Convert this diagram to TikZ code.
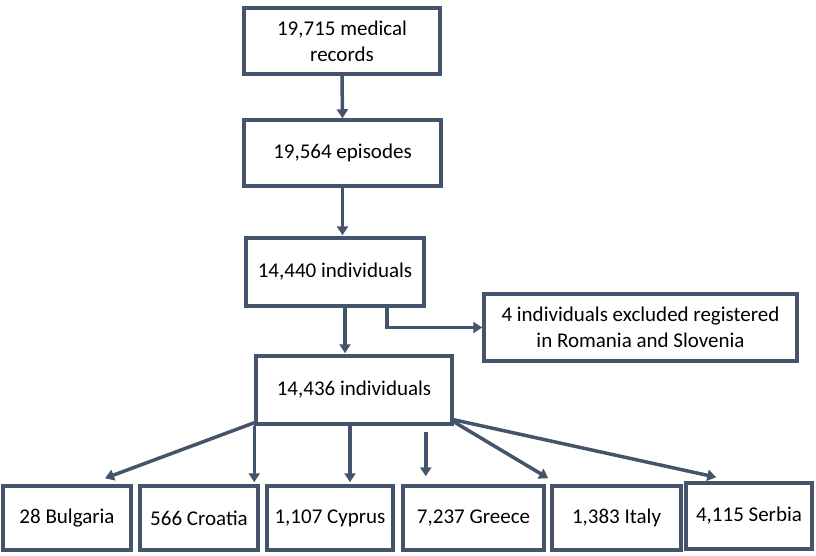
\documentclass[tikz,border=0pt]{standalone}
\usepackage{fontspec}
\setmainfont{Carlito}
\usetikzlibrary{arrows.meta,calc}
\definecolor{slate}{HTML}{44546A}
\begin{document}
\begin{tikzpicture}[x=1pt,y={(0,-1pt)},
  box/.style={draw=slate,line width=3.5pt,fill=white,align=center,inner sep=2pt,
    font=\fontsize{21}{26}\selectfont,text=black},
  link/.style={draw=slate,line width=3.5pt,-{Triangle[width=11pt,length=9pt]}}]
\useasboundingbox (0,0) rectangle (816,556);
% main flow
\node[box,minimum width=196pt,minimum height=66pt] (rec) at (342,41) {19,715 medical\\records};
\node[box,minimum width=197pt,minimum height=66pt] (epi) at (342.5,153) {19,564 episodes};
\node[box,minimum width=178pt,minimum height=68pt] (ind) at (335,272) {14,440 individuals};
\node[box,minimum width=313pt,minimum height=67pt] (exc) at (640.5,327.5) {4 individuals excluded registered\\in Romania and Slovenia};
\node[box,minimum width=196pt,minimum height=68pt] (fin) at (354,390) {14,436 individuals};
% countries
\node[box,minimum width=128pt,minimum height=64pt] (bg) at (67,518) {28 Bulgaria};
\node[box,minimum width=118pt,minimum height=64pt] (hr) at (199,518) {566 Croatia};
\node[box,minimum width=126pt,minimum height=64pt] (cy) at (330,518) {1,107 Cyprus};
\node[box,minimum width=141pt,minimum height=64pt] (gr) at (473.5,518) {7,237 Greece};
\node[box,minimum width=129pt,minimum height=64pt] (it) at (616.5,518) {1,383 Italy};
\node[box,minimum width=126pt,minimum height=66pt] (rs) at (749,516) {4,115 Serbia};
% connectors
\draw[link] (rec.south) -- (epi.north);
\draw[link] (epi.south) -- ([yshift=1pt]epi.south |- ind.north);
\draw[link] ([xshift=10pt]ind.south) -- ([xshift=10pt,yshift=1pt]ind.south |- fin.north);
\draw[link] ([xshift=52pt]ind.south) |- (exc.west);
\draw[link] ([yshift=3pt]fin.south west) -- ($(bg.north)+(38,-6)$);
\draw[link] (fin.south west) -- ([yshift=2pt]fin.south west |- hr.north);
\draw[link] ([xshift=-4pt]fin.south) -- ([xshift=-4pt,yshift=2pt]fin.south |- cy.north);
\draw[link] ([xshift=-28pt,yshift=-6pt]fin.south east) -- ([xshift=-28pt,yshift=8pt]fin.south east |- gr.north);
\draw[link] ([yshift=4pt]fin.south east) -- ($(it.north west)+(-2,-6)$);
\draw[link] ([yshift=6pt]fin.south east) -- ($(rs.north west)+(32,-4)$);
\end{tikzpicture}
\end{document}
